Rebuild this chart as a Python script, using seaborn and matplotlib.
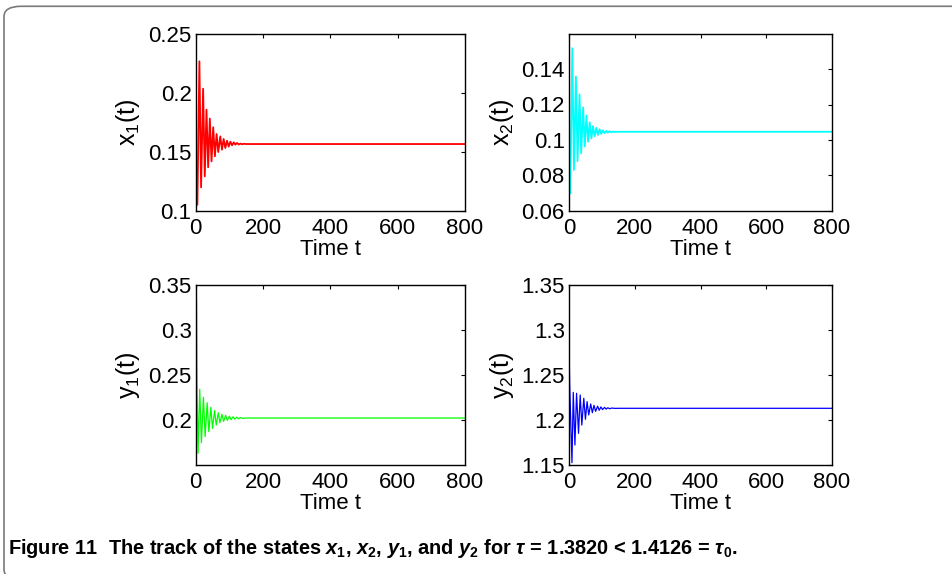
import numpy as np
import pandas as pd
import matplotlib
matplotlib.use("Agg")
import matplotlib.pyplot as plt
from matplotlib.patches import FancyBboxPatch
import seaborn as sns

# ---- state trajectories (turning points of the damped oscillations) ----
t_x1 = [0, 5, 11, 16, 22, 27, 32, 37, 42, 47, 52, 57, 62, 67, 73, 78, 83, 88,
        93, 98, 103, 108, 113, 118, 123, 128, 133, 138, 143, 150, 800]
x1 = [0.138, 0.105, 0.2266, 0.1198, 0.2034, 0.1291, 0.1856, 0.1368, 0.178,
      0.1418, 0.1707, 0.1461, 0.165, 0.1497, 0.163, 0.1517, 0.1608, 0.1531,
      0.1593, 0.1543, 0.1585, 0.1554, 0.1579, 0.156, 0.1574, 0.1561, 0.1569,
      0.1563, 0.1567, 0.1565, 0.1565]

t_x2 = [0, 4, 10, 15, 21, 26, 32, 37, 43, 48, 53, 58, 63, 68, 73, 78, 83, 88,
        93, 98, 103, 108, 113, 118, 123, 128, 133, 140, 150, 800]
x2 = [0.098, 0.0698, 0.1518, 0.0830, 0.1358, 0.0880, 0.1257, 0.0925, 0.1184,
      0.0963, 0.1137, 0.0990, 0.1100, 0.1008, 0.1078, 0.1020, 0.1068, 0.1028,
      0.1060, 0.1034, 0.1054, 0.1038, 0.1051, 0.1041, 0.1049, 0.1043, 0.1047,
      0.1045, 0.1046, 0.1046]

t_y1 = [0, 2.5, 4, 7, 12, 17, 23, 28, 34, 39, 45, 50, 56, 61, 67, 72, 78, 83,
        89, 94, 100, 105, 111, 116, 122, 127, 133, 140, 150, 800]
y1 = [0.35, 0.33, 0.24, 0.163, 0.2341, 0.1748, 0.2252, 0.1815, 0.2192, 0.187,
      0.2141, 0.1907, 0.2104, 0.1944, 0.2081, 0.197, 0.2063, 0.1985, 0.2052,
      0.1996, 0.2042, 0.2004, 0.2036, 0.201, 0.2031, 0.2014, 0.2027, 0.2018,
      0.2022, 0.2022]

t_y2 = [0, 2, 9, 13, 18, 23, 29, 34, 39, 45, 50, 55, 60, 66, 71, 76, 81, 87,
        92, 97, 102, 108, 113, 118, 124, 130, 140, 150, 800]
y2 = [1.287, 1.24, 1.1526, 1.2307, 1.1722, 1.2297, 1.1852, 1.2278, 1.1944,
      1.2241, 1.2008, 1.2204, 1.2056, 1.2178, 1.2081, 1.2163, 1.2096, 1.2153,
      1.2108, 1.2145, 1.2116, 1.214, 1.2121, 1.2136, 1.2125, 1.2133, 1.2129,
      1.213, 1.213]

time_ticks = [0, 200, 400, 600, 800]

sns.set_theme(style="white")
plt.rcParams["font.family"] = ["Liberation Sans", "DejaVu Sans"]
plt.rcParams["text.color"] = "black"
plt.rcParams["axes.labelcolor"] = "black"
plt.rcParams["xtick.color"] = "black"
plt.rcParams["ytick.color"] = "black"
plt.rcParams["mathtext.fontset"] = "custom"
plt.rcParams["mathtext.rm"] = "Liberation Sans:bold"
plt.rcParams["mathtext.it"] = "Liberation Sans:bold:italic"
plt.rcParams["mathtext.bf"] = "Liberation Sans:bold"
plt.rcParams["mathtext.sf"] = "Liberation Sans"

W, H = 952, 574
fig = plt.figure(figsize=(W / 100, H / 100), dpi=100)


def rect(x0, x1p, ytop, ybot):
    return [x0 / W, 1 - ybot / H, (x1p - x0) / W, (ybot - ytop) / H]


panels = [
    (rect(195.7, 465, 33.7, 210.7), t_x1, x1, "#ff0000", r"$\mathsf{x_1(t)}$",
     (0.1, 0.25), [0.1, 0.15, 0.2, 0.25], 1.3),
    (rect(569, 832, 33.7, 210.7), t_x2, x2, "#00ffff", r"$\mathsf{x_2(t)}$",
     (0.06, 0.16), [0.06, 0.08, 0.1, 0.12, 0.14], 1.3),
    (rect(195.7, 465, 285, 465), t_y1, y1, "#00ff00", r"$\mathsf{y_1(t)}$",
     (0.15, 0.35), [0.2, 0.25, 0.3, 0.35], 0.9),
    (rect(569, 832, 285, 465), t_y2, y2, "#0000ff", r"$\mathsf{y_2(t)}$",
     (1.15, 1.35), [1.15, 1.2, 1.25, 1.3, 1.35], 0.9),
]

for r, tt, vals, col, lab, ylim, yticks, lw in panels:
    ax = fig.add_axes(r)
    df = pd.DataFrame({"t": tt, "v": vals})
    sns.lineplot(data=df, x="t", y="v", ax=ax, color=col, linewidth=lw,
                 estimator=None, sort=False)
    ax.set_xlim(0, 800)
    ax.set_ylim(*ylim)
    ax.set_xticks(time_ticks)
    ax.set_xticklabels([f"{v:g}" for v in time_ticks])
    ax.set_yticks(yticks)
    ax.set_yticklabels([f"{v:g}" for v in yticks])
    ax.tick_params(direction="in", length=3, width=0.8, labelsize=16,
                   top=True, right=True, colors="black", pad=3)
    ax.tick_params(axis="x", pad=5)
    for s in ax.spines.values():
        s.set_color("black")
        s.set_linewidth(1.0)
    ax.set_xlabel("Time t", fontsize=16, labelpad=0)
    ax.set_ylabel(lab, fontsize=18)
    ax.yaxis.set_label_coords(-0.2, 0.5)
    ax.grid(False)

fig.text(8 / W, 1 - 548 / H,
         r"Figure 11  The track of the states $x_1$, $x_2$, $y_1$, and $y_2$ "
         r"for $\tau$ = 1.3820 < 1.4126 = $\tau_0$.",
         fontsize=14.4, fontweight="bold", ha="left", va="center")

# rounded frame around the figure panel
frame = FancyBboxPatch((4 / W, -0.01), 1.05, (574 - 6) / H + 0.01 - 0.0005,
                       boxstyle="round,pad=0,rounding_size=0.018",
                       transform=fig.transFigure, fill=False,
                       edgecolor="#7a7a7a", linewidth=1.2, clip_on=False)
fig.patches.append(frame)

fig.savefig("out.png", dpi=100, facecolor="white")
